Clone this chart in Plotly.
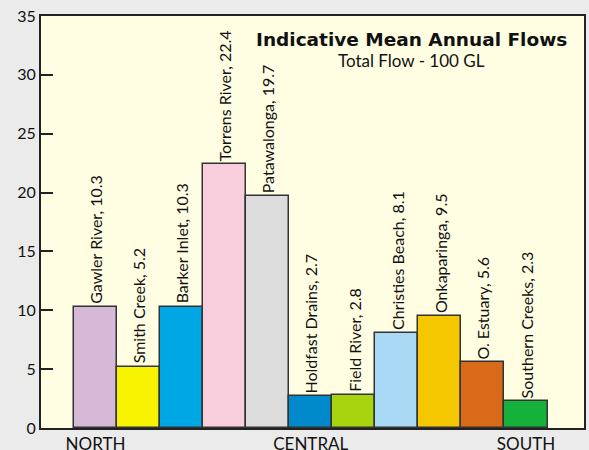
import plotly.graph_objects as go

names = ["Gawler River", "Smith Creek", "Barker Inlet", "Torrens River", "Patawalonga",
         "Holdfast Drains", "Field River", "Christies Beach", "Onkaparinga", "O. Estuary",
         "Southern Creeks"]
values = [10.3, 5.2, 10.3, 22.4, 19.7, 2.7, 2.8, 8.1, 9.5, 5.6, 2.3]
value_labels = ["10.3", "5.2", "10.3", "22.4", "19.7", "2.7", "2.8", "8.1", "9.5", "5.6", "2.3"]
colors = ["#D5B9D6", "#F8F300", "#00A7E5", "#F9CEDC", "#DCDCDC", "#0089CB",
          "#A7D30F", "#A9D8F4", "#F4C700", "#D96A1A", "#16B13B"]
region_positions = [0, 5, 10]
region_labels = ["NORTH", "CENTRAL", "SOUTH"]
y_ticks = [0, 5, 10, 15, 20, 25, 30, 35]

FONT = "Lato"
x = list(range(len(names)))

fig = go.Figure()
fig.add_trace(go.Bar(
    x=x, y=values, width=1,
    marker=dict(color=colors, line=dict(color="#333333", width=1.5)),
    hoverinfo="skip",
))

for xi, n, v, vl in zip(x, names, values, value_labels):
    fig.add_annotation(x=xi, y=v, text=f"{n}, {vl}", textangle=-90,
                       xanchor="center", yanchor="bottom", yshift=1,
                       showarrow=False, font=dict(family=FONT, size=16, color="#111111"))

fig.add_annotation(xref="paper", yref="paper", x=0.683, y=0.944, text="<b>Indicative Mean Annual Flows</b>",
                   showarrow=False, xanchor="center", yanchor="middle",
                   font=dict(family="DejaVu Sans", size=18.5, color="#111111"))
fig.add_annotation(xref="paper", yref="paper", x=0.683, y=0.891, text="Total Flow - 100 GL",
                   showarrow=False, xanchor="center", yanchor="middle",
                   font=dict(family=FONT, size=17, color="#111111"))

fig.update_layout(
    width=589, height=450,
    margin=dict(l=41, r=5, t=16, b=22),
    paper_bgcolor="#EBEBEB",
    plot_bgcolor="#FFFDE2",
    showlegend=False,
    bargap=0,
    font=dict(family=FONT, color="#111111"),
)
fig.update_xaxes(range=[-1.267, 11.348], tickvals=region_positions, ticktext=region_labels,
                 automargin=False,
                 showgrid=False, zeroline=False, showline=True, linecolor="#222222", linewidth=2,
                 mirror=True, ticks="", tickfont=dict(family=FONT, size=17, color="#111111"))
fig.update_yaxes(range=[0, 35], tickvals=y_ticks, showgrid=False, zeroline=False,
                 automargin=False,
                 showline=True, linecolor="#222222", linewidth=2, mirror=True,
                 ticks="inside", ticklen=12, tickwidth=1.5, tickcolor="#222222",
                 tickfont=dict(family=FONT, size=16, color="#111111"))

fig.write_html("out.html", config={"displayModeBar": False},
               post_script="document.body.style.margin='0';document.body.style.background='#EBEBEB';")
